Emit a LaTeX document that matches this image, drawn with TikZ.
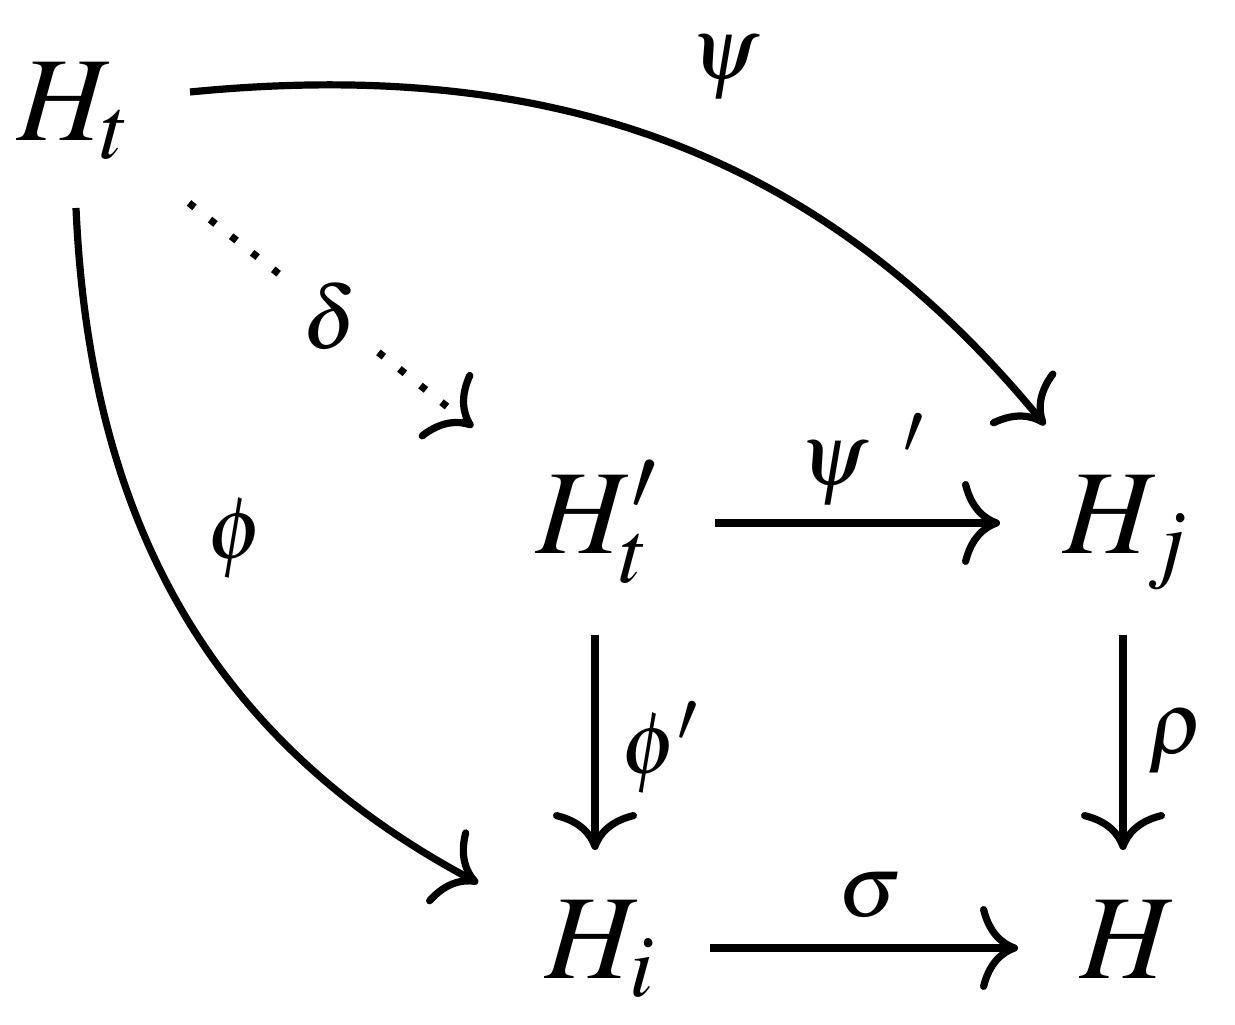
\documentclass[tikz,border=0pt]{standalone}
\usepackage{mathptmx}
\usetikzlibrary{arrows.meta}
\begin{document}
\begin{tikzpicture}[x=0.5pt,y=0.5pt,
  obj/.style={inner sep=0pt, anchor=base west, font=\fontsize{60}{72}\selectfont},
  lab/.style={inner sep=0pt, font=\fontsize{60}{72}\selectfont},
  arr/.style={line width=3.6pt, -{Computer Modern Rightarrow[length=19pt,width=42pt]}},
  dotarr/.style={arr, dash pattern=on 3.5pt off 9.9pt}]
\useasboundingbox (0,0) rectangle (1235,1024);
% objects
\node[obj] (Ht)  at (17,883)  {$H_t$};
\node[obj] (Htp) at (536,471) {$H'_t$};
\node[obj] (Hj)  at (1063,471) {$H_j$};
\node[obj] (Hi)  at (545,46)  {$H_i$};
\node[obj] (H)   at (1080,46) {$H$};
% connectors
\draw[arr] ([shift={(173,49)}]Ht.base west) to[out=5.6,in=129.4] ([shift={(-18,128)}]Hj.base west);
\draw[arr] ([shift={(59,-67)}]Ht.base west) to[out=-87.5,in=152] ([shift={(-67,95)}]Hi.base west);
\draw[dotarr] ([shift={(172,-62)}]Ht.base west) -- ([shift={(-63,126)}]Htp.base west);
\draw[arr] ([shift={(179,30)}]Htp.base west) -- ([shift={(-63,30)}]Hj.base west);
\draw[arr] ([shift={(165,30)}]Hi.base west) -- ([shift={(-62,30)}]H.base west);
\draw[arr] ([shift={(59,-82)}]Htp.base west) -- ([shift={(50,128)}]Hi.base west);
\draw[arr] ([shift={(60,-82)}]Hj.base west) -- ([shift={(43,128)}]H.base west);
% labels
\node[lab] (lpsi)  at (725,956) {$\scriptstyle\psi$};
\node[lab, fill=white, inner sep=5.5pt] (ldelta) at (330,708) {$\scriptstyle\delta$};
\node[lab] (lphi)  at (236,485) {$\scriptstyle\phi$};
\node[lab] (lpsip) at (862,564) {$\scriptstyle\psi^{\mkern9mu\prime}$};
\node[lab] (lphip) at (660,276) {$\scriptstyle\phi'$};
\node[lab] (lrho)  at (1177,282) {$\scriptstyle\rho$};
\node[lab] (lsig)  at (870,129) {$\scriptstyle\sigma$};
\end{tikzpicture}
\end{document}
